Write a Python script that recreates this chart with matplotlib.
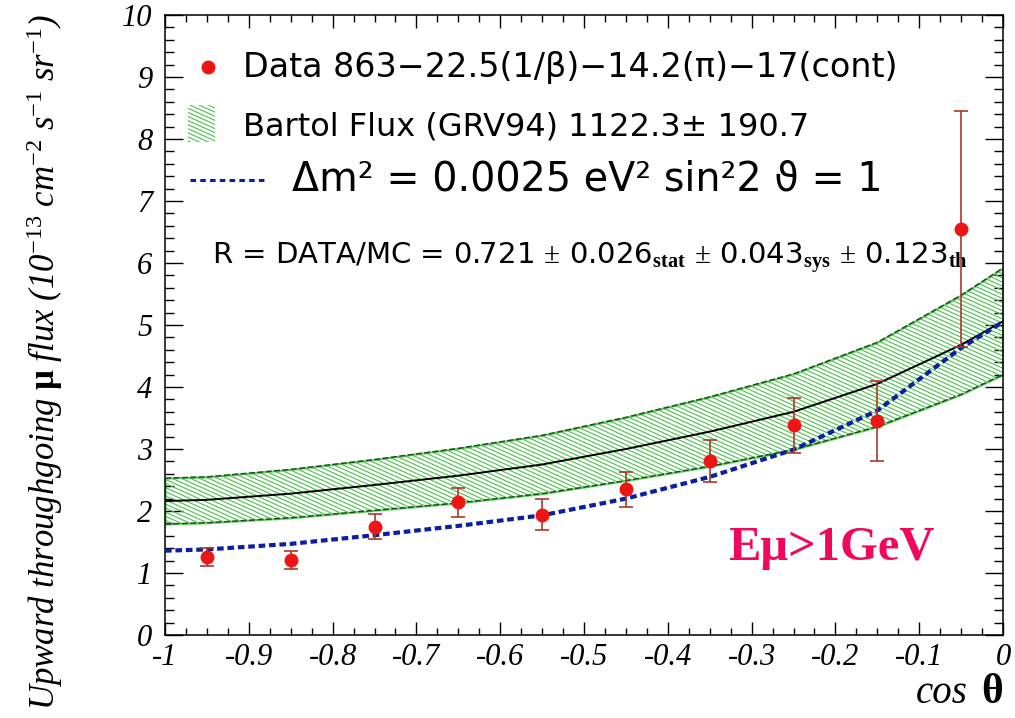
import matplotlib
matplotlib.use("Agg")
import matplotlib.pyplot as plt
from matplotlib.collections import LineCollection
from matplotlib.patches import Rectangle
from matplotlib.ticker import MultipleLocator
import numpy as np

plt.rcParams['mathtext.fontset'] = 'custom'
plt.rcParams['mathtext.rm'] = 'Liberation Serif'
plt.rcParams['mathtext.it'] = 'Liberation Serif:italic'
plt.rcParams['mathtext.bf'] = 'Liberation Serif:bold'

# measured flux per cos(theta) bin
cos_bins = [-0.95, -0.85, -0.75, -0.65, -0.55, -0.45, -0.35, -0.25, -0.15, -0.05]
flux = [1.26, 1.21, 1.75, 2.14, 1.94, 2.35, 2.80, 3.38, 3.45, 6.55]
flux_err = [0.15, 0.15, 0.20, 0.23, 0.25, 0.28, 0.34, 0.44, 0.65, 1.90]

# Bartol MC prediction (no oscillation) and its uncertainty band
mc_cos = [-1.0, -0.95, -0.85, -0.75, -0.65, -0.55, -0.45, -0.35, -0.25, -0.15, -0.05, 0.0]
mc_central = [2.16, 2.18, 2.28, 2.42, 2.57, 2.75, 3.00, 3.28, 3.60, 4.05, 4.68, 5.06]
mc_upper = [2.53, 2.55, 2.67, 2.83, 3.01, 3.22, 3.51, 3.84, 4.21, 4.72, 5.48, 5.92]
mc_lower = [1.79, 1.81, 1.89, 2.01, 2.13, 2.28, 2.49, 2.72, 2.99, 3.36, 3.88, 4.20]

# oscillated expectation
osc = [1.36, 1.38, 1.47, 1.61, 1.76, 1.93, 2.20, 2.55, 2.99, 3.62, 4.63, 5.05]

serif = 'Liberation Serif'
sans = ['DejaVu Sans']
hatch_green = '#4cc24c'


def hatch_lines(ax, clip, clip_transform=None):
    # slanted hatching (shallower than the built-in 45 degree hatch)
    slope = -0.45 * 838 / 620
    step = 4.1 / 620
    segs = []
    for c in np.arange(0, 1 - slope + step, step):
        segs.append([(0, c), (1, c + slope)])
    lc = LineCollection(segs, colors=hatch_green, linewidths=0.8,
                        transform=ax.transAxes, zorder=2)
    ax.add_collection(lc)
    if clip_transform is None:
        lc.set_clip_path(clip)
    else:
        lc.set_clip_path(clip, clip_transform)


fig = plt.figure(figsize=(10.15, 7.18), dpi=100)
ax = fig.add_axes([165 / 1015, 83 / 718, 838 / 1015, 620 / 718])

band = ax.fill_between(mc_cos, mc_lower, mc_upper, facecolor='white',
                       edgecolor='#6fd66f', linewidth=1.6, zorder=1)
hatch_lines(ax, band.get_paths()[0], ax.transData)
for edge in (mc_upper, mc_lower):
    ax.plot(mc_cos, edge, color='#1d4f1d', lw=1.1, linestyle=(0, (4, 1.5)), zorder=3)
ax.plot(mc_cos, mc_central, color='black', lw=1.4, zorder=3)

ax.plot(mc_cos, osc, color='#0b1fa0', lw=3.0, linestyle=(0, (1.6, 0.9)), zorder=4)

ax.errorbar(cos_bins, flux, yerr=flux_err, fmt='o', color='#ee1515', ms=9,
            ecolor='#a8392c', elinewidth=1.2, capsize=5, capthick=1.2, zorder=5)

ax.set_xlim(-1, 0)
ax.set_ylim(0, 10)
ax.xaxis.set_minor_locator(MultipleLocator(0.025))
ax.yaxis.set_minor_locator(MultipleLocator(0.2))
ax.set_xticks(np.arange(-1, 0.01, 0.1))
ax.set_xticklabels(['-1', '-0.9', '-0.8', '-0.7', '-0.6', '-0.5', '-0.4', '-0.3', '-0.2', '-0.1', '0'])
ax.set_yticks(range(11))
ax.set_yticklabels([str(i) for i in range(11)])
ax.tick_params(which='both', direction='in', top=True, right=True, width=1.0, color='black')
ax.tick_params(axis='y', which='major', length=13, pad=9)
ax.tick_params(axis='y', which='minor', length=6.5)
ax.tick_params(axis='x', which='major', length=9.5, pad=6)
ax.tick_params(axis='x', which='minor', length=5)
for lab in ax.get_xticklabels() + ax.get_yticklabels():
    lab.set_fontfamily(serif)
    lab.set_fontstyle('italic')
    lab.set_fontsize(22)
for sp in ax.spines.values():
    sp.set_linewidth(1.1)

# legend entries
ax.plot([0.0513], [0.916], 'o', color='#ee1515', ms=9, transform=ax.transAxes)
ax.text(0.093, 0.916, 'Data 863\u221222.5(1/\u03b2)\u221214.2(\u03c0)\u221217(cont)',
        transform=ax.transAxes, va='center', fontsize=24, family=sans)
box = Rectangle((0.0274, 0.795), 0.0323, 0.06, transform=ax.transAxes,
                facecolor='none', edgecolor='none')
ax.add_patch(box)
hatch_lines(ax, box)
ax.text(0.093, 0.819, 'Bartol Flux (GRV94) 1122.3\u00b1 190.7',
        transform=ax.transAxes, va='center', fontsize=23, family=sans)
ax.plot([0.030, 0.119], [0.734, 0.734], color='#0b1fa0', lw=2.2,
        linestyle=(0, (1.8, 1.4)), transform=ax.transAxes)
ax.text(0.152, 0.734, '\u0394m\u00b2 = 0.0025 eV\u00b2 sin\u00b22 \u03d1 = 1',
        transform=ax.transAxes, va='center', fontsize=28.5, family=sans)

ax.text(0.056, 0.608,
        r'R = DATA/MC = 0.721 $\pm$ 0.026$_{\mathbf{stat}}$ $\pm$ 0.043$_{\mathbf{sys}}$ $\pm$ 0.123$_{\mathbf{th}}$',
        transform=ax.transAxes, va='center', fontsize=21, family=sans)

ax.text(0.672, 0.140, 'E\u03bc>1GeV', transform=ax.transAxes, va='center',
        fontsize=35, family=serif, fontweight='bold', color='#f2075f')

fig.text(0.044, 0.496,
         r'Upward throughgoing $\mathbf{\mu}$ flux (10$^{-13}$ cm$^{-2}$ s$^{-1}$ sr$^{-1}$)',
         rotation=90, ha='center', va='center', fontsize=25, family=serif, style='italic')

fig.text(968 / 1015, 1 - 712 / 718, 'cos', ha='right', va='bottom',
         fontsize=28, family=serif, style='italic')
fig.text(1003 / 1015, 1 - 712 / 718, '\u03b8', ha='right', va='bottom',
         fontsize=30, family=serif, fontweight='bold')

fig.savefig('out.png', dpi=100)
